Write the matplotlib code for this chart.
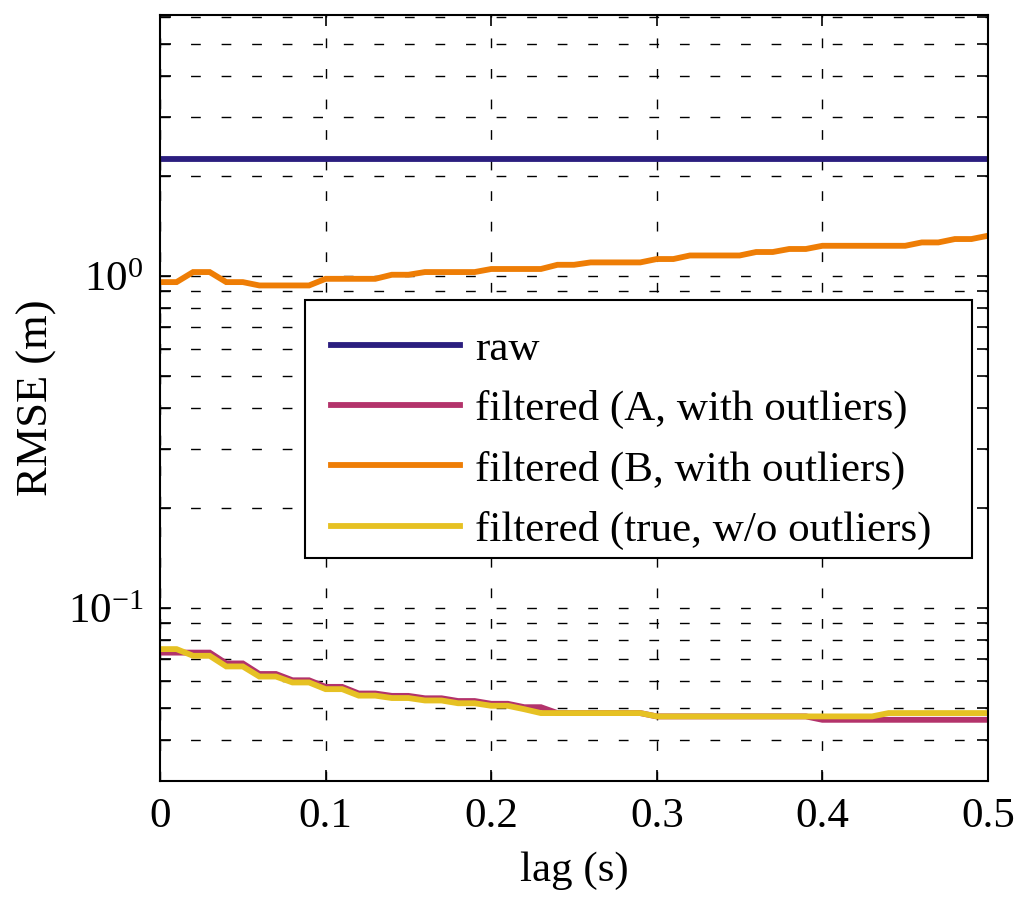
import numpy as np
import matplotlib
matplotlib.use('Agg')
import matplotlib.pyplot as plt
from matplotlib.patches import Rectangle
from matplotlib.ticker import LogLocator, NullFormatter, FuncFormatter

plt.rcParams['font.family'] = ['Liberation Serif', 'DejaVu Serif']
plt.rcParams['mathtext.fontset'] = 'stix'

# lag values, 0 to 0.5 s in steps of 10 ms
lag = [round(0.01 * i, 2) for i in range(51)]

# RMSE of the raw signal (flat)
rmse_raw = [2.24] * 51

# filtered A (with outliers)
rmse_a = [0.0733, 0.0733, 0.0733, 0.0733, 0.0680, 0.0680, 0.0632, 0.0632, 0.0605, 0.0605,
          0.0578, 0.0578, 0.0552, 0.0552, 0.0543, 0.0543, 0.0534, 0.0534, 0.0524, 0.0524,
          0.0514, 0.0514, 0.0502, 0.0502, 0.0482, 0.0482, 0.0482, 0.0482, 0.0482, 0.0482,
          0.0471, 0.0471, 0.0471, 0.0471, 0.0471, 0.0471, 0.0471, 0.0471, 0.0471, 0.0471,
          0.0460, 0.0460, 0.0460, 0.0460, 0.0460, 0.0460, 0.0460, 0.0460, 0.0460, 0.0460,
          0.0460]

# filtered B (with outliers)
rmse_b = [0.957, 0.957, 1.026, 1.026, 0.957, 0.957, 0.935, 0.935, 0.935, 0.935,
          0.979, 0.979, 0.979, 0.979, 1.007, 1.007, 1.026, 1.026, 1.026, 1.026,
          1.048, 1.048, 1.048, 1.048, 1.079, 1.079, 1.097, 1.097, 1.097, 1.097,
          1.123, 1.123, 1.151, 1.151, 1.151, 1.151, 1.179, 1.179, 1.204, 1.204,
          1.231, 1.231, 1.231, 1.231, 1.231, 1.231, 1.260, 1.260, 1.290, 1.290,
          1.320]

# filtered with true outlier-free data
rmse_true = [0.0751, 0.0751, 0.0717, 0.0717, 0.0666, 0.0666, 0.0621, 0.0621, 0.0596, 0.0596,
             0.0569, 0.0569, 0.0544, 0.0544, 0.0535, 0.0535, 0.0526, 0.0526, 0.0516, 0.0516,
             0.0507, 0.0507, 0.0495, 0.0482, 0.0482, 0.0482, 0.0482, 0.0482, 0.0482, 0.0482,
             0.0471, 0.0471, 0.0471, 0.0471, 0.0471, 0.0471, 0.0471, 0.0471, 0.0471, 0.0471,
             0.0471, 0.0471, 0.0471, 0.0471, 0.0482, 0.0482, 0.0482, 0.0482, 0.0482, 0.0482,
             0.0482]

labels = ['raw', 'filtered (A, with outliers)', 'filtered (B, with outliers)',
          'filtered (true, w/o outliers)']
colors = ['#2B1E7F', '#B3336B', '#EE7D05', '#E6C123']

fig = plt.figure(figsize=(10.24, 9.08), dpi=100)
ax = fig.add_axes([0.15625, 0.1399, 0.8086, 0.8436])

lw = 4.2
for y, lab, c in zip([rmse_raw, rmse_a, rmse_b, rmse_true], labels, colors):
    ax.plot(lag, y, color=c, lw=lw, label=lab, solid_joinstyle='miter')

ax.set_yscale('log')
ax.set_xlim(0, 0.5)
ax.set_ylim(0.0301, 6.1)

ax.set_xticks([0, 0.1, 0.2, 0.3, 0.4, 0.5])
ax.xaxis.set_major_formatter(FuncFormatter(lambda v, p: '%g' % v))
ax.yaxis.set_major_locator(LogLocator(base=10))
ax.yaxis.set_minor_locator(LogLocator(base=10, subs=np.arange(2, 10)))
ax.yaxis.set_minor_formatter(NullFormatter())

grid_style = dict(color='black', linestyle=(0, (7, 15)), linewidth=1.0)
ax.grid(True, which='major', axis='both', **grid_style)
ax.grid(True, which='minor', axis='y', **grid_style)

ax.tick_params(which='both', direction='in', top=True, right=True,
               width=1.2, labelsize=31)
ax.tick_params(which='major', length=8, pad=12)
ax.tick_params(which='minor', length=8)
for s in ax.spines.values():
    s.set_linewidth(1.5)

ax.set_xlabel('lag (s)', fontsize=31, labelpad=11)
ax.set_ylabel('RMSE (m)', fontsize=32, labelpad=8)

# legend box drawn separately (MATLAB style has extra room on the right)
box = Rectangle((0.175, 0.291), 0.806, 0.337, transform=ax.transAxes,
                facecolor='white', edgecolor='black', lw=1.5, zorder=4.5)
ax.add_patch(box)

leg = ax.legend(loc='upper left', bbox_to_anchor=(0.1765, 0.6215), borderaxespad=0,
                fontsize=31, handlelength=3.0, handletextpad=0.35, labelspacing=0.49,
                borderpad=0.58, frameon=False)
leg.set_zorder(5)

fig.savefig('out.png', dpi=100)
